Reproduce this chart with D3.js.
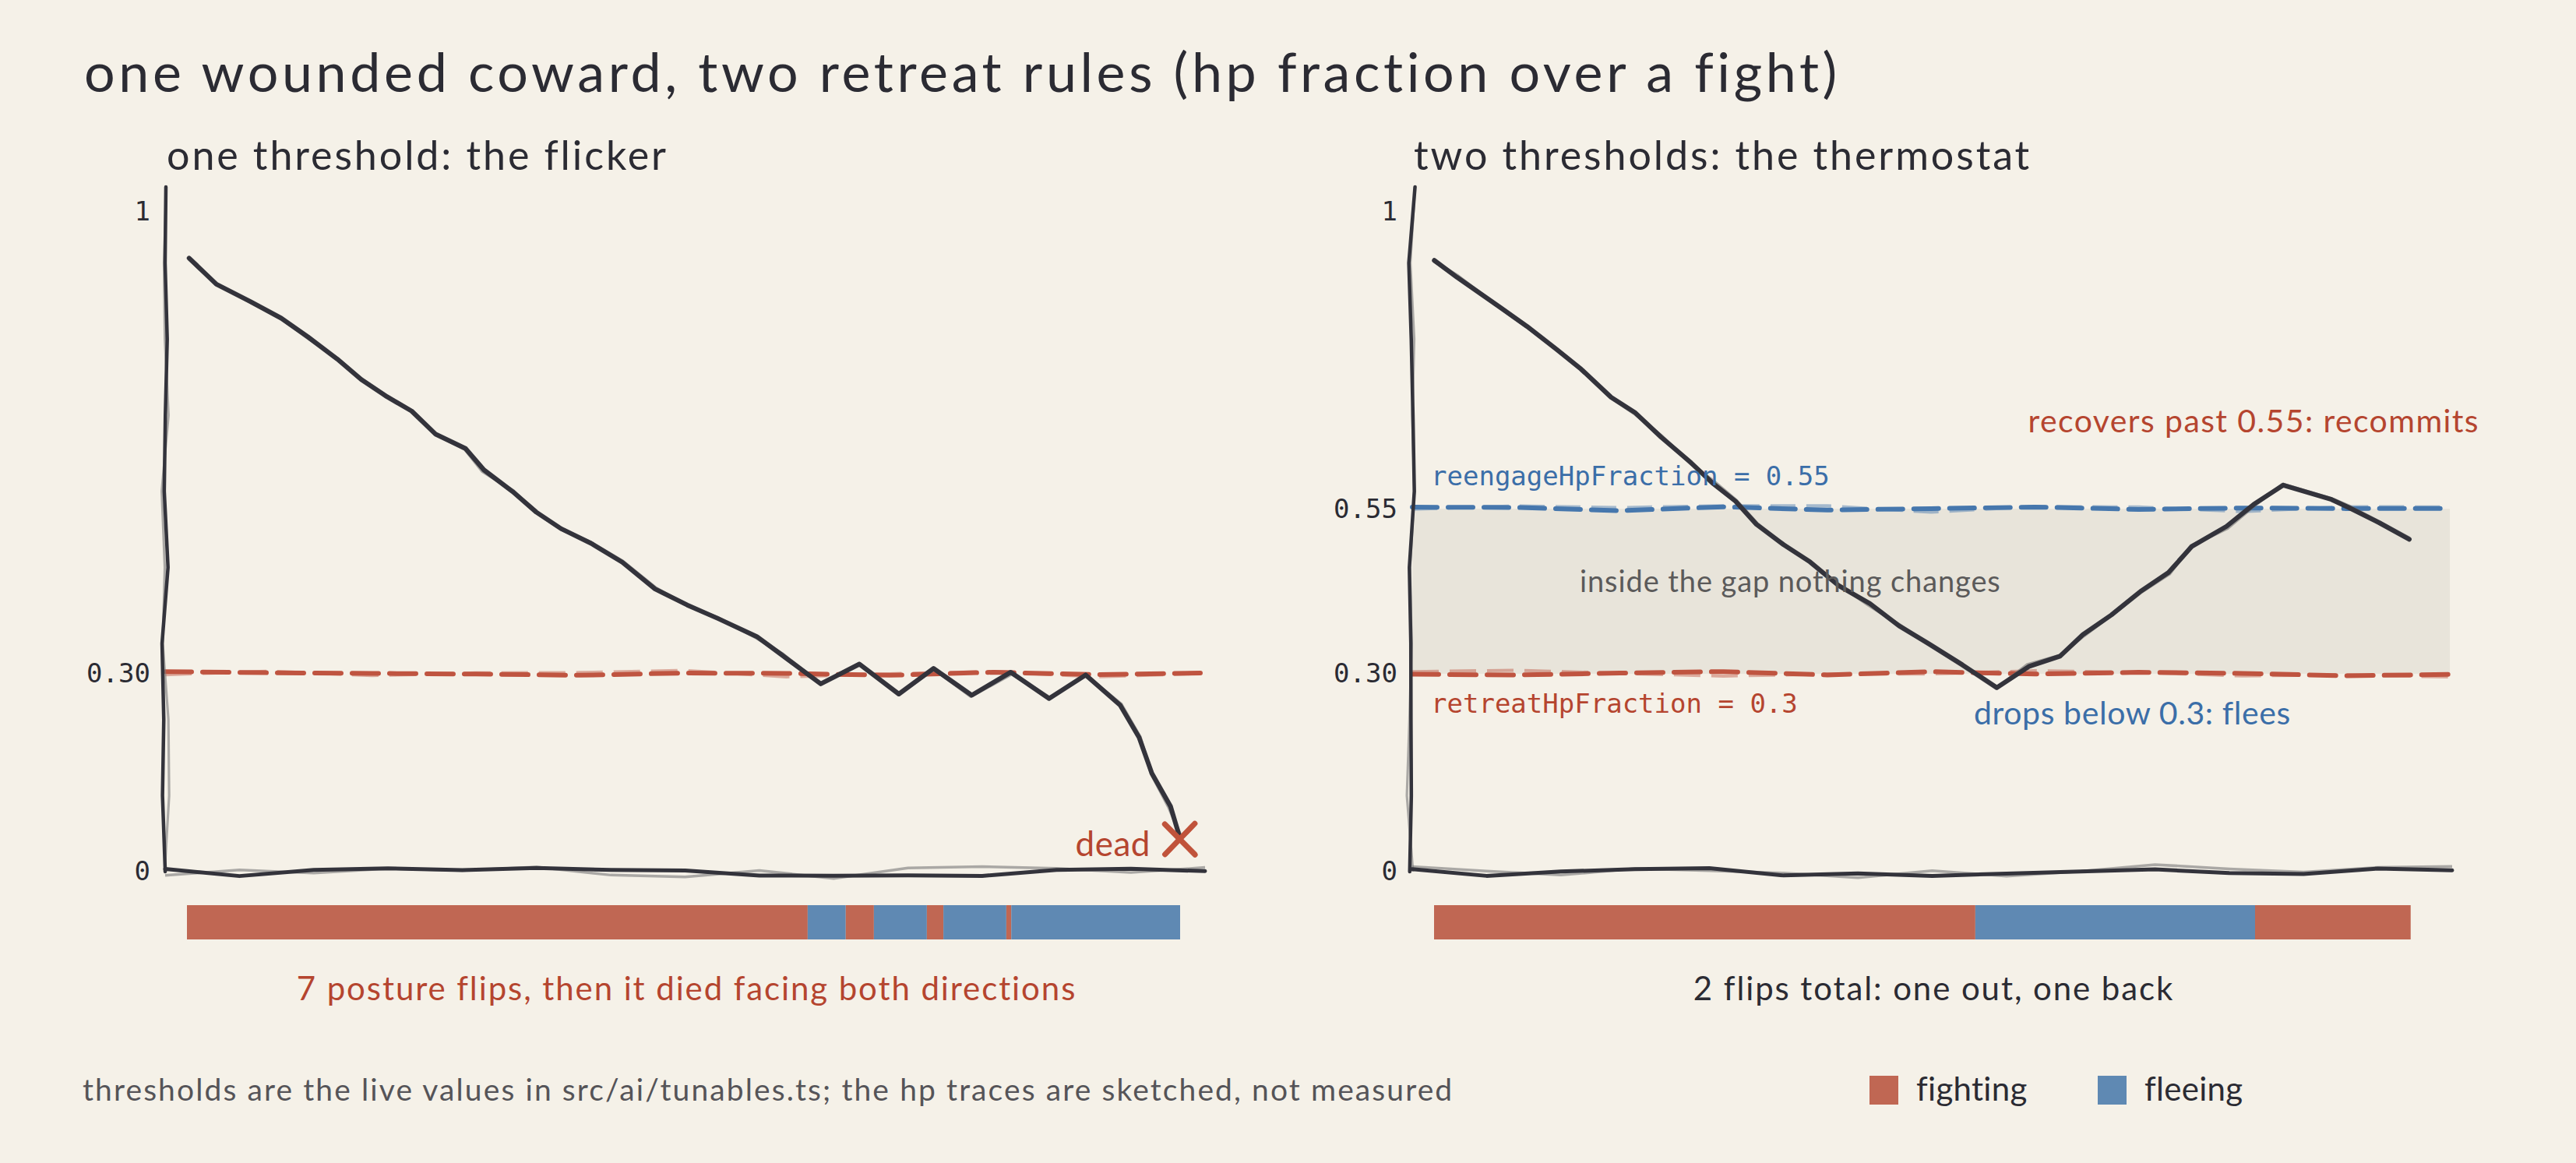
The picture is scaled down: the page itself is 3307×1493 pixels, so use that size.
<!DOCTYPE html>
<html>
  <head>
    <meta charset="UTF-8">
    <title>one wounded coward, two retreat rules</title>
    <script src="https://cdnjs.cloudflare.com/ajax/libs/d3/7.8.5/d3.min.js"></script>
  </head>
  <style type="text/css">
    body { margin: 0px; background: #f5f1e8; overflow: hidden; }
    .hand { font-family: "Lato", "Open Sans", sans-serif; }
    .mono { font-family: "DejaVu Sans Mono", "Liberation Mono", monospace; }
    .tick text { font-family: "DejaVu Sans Mono", monospace; font-size: 34px; fill: #2b2b33; }
  </style>
  <body>
    <div id="chart"></div>
    <script>
      // hp traces (t = fight time, hp = fraction)
      const leftT  = [0.1, 1.8, 3.8, 5.7, 7.3, 9.1, 10.5, 12.1, 13.6, 15.0, 16.8, 17.9, 19.7, 21.1, 22.6, 24.4, 26.3, 28.3, 30.2, 32.1, 34.4, 35.9, 38.3, 40.6, 43.0, 45.1, 47.4, 49.8, 52.1, 54.3, 56.4, 57.5, 58.3, 59.4, 60.0];
      const leftHp = [0.929, 0.891, 0.864, 0.839, 0.811, 0.778, 0.745, 0.721, 0.699, 0.663, 0.640, 0.608, 0.577, 0.545, 0.520, 0.497, 0.469, 0.429, 0.403, 0.384, 0.355, 0.329, 0.285, 0.316, 0.269, 0.308, 0.267, 0.301, 0.263, 0.298, 0.253, 0.203, 0.149, 0.099, 0.054];
      const rightT  = [0, 1.4, 4.0, 5.6, 7.4, 8.9, 10.7, 12.1, 13.7, 15.5, 16.9, 18.2, 19.5, 21.1, 22.7, 24.5, 26.3, 28.1, 29.9, 31.9, 34.0, 35.9, 37.8, 39.2, 40.9, 42.7, 44.4, 45.8, 47.9, 49.5, 51.3, 54.2, 55.3, 57.1, 58.9];
      const rightHp = [0.926, 0.901, 0.854, 0.826, 0.792, 0.762, 0.719, 0.695, 0.658, 0.619, 0.589, 0.561, 0.527, 0.495, 0.469, 0.434, 0.405, 0.373, 0.345, 0.313, 0.279, 0.312, 0.328, 0.359, 0.390, 0.424, 0.452, 0.492, 0.522, 0.557, 0.586, 0.563, 0.553, 0.528, 0.503];

      // posture strip: switch times and the posture held after each
      const leftFlipT = [0, 37.5, 39.8, 41.5, 44.7, 45.7, 49.5, 49.8, 60];
      const leftPosture = ['fighting', 'fleeing', 'fighting', 'fleeing', 'fighting', 'fleeing', 'fighting', 'fleeing'];
      const rightFlipT = [0, 32.7, 49.6, 59.0];
      const rightPosture = ['fighting', 'fleeing', 'fighting'];

      const retreatHpFraction = 0.3;
      const reengageHpFraction = 0.55;
      const leftTicks = [0, 0.30, 1];
      const rightTicks = [0, 0.30, 0.55, 1];
      const legendItems = ['fighting', 'fleeing'];

      const W = 3307, H = 1493;
      const colors = {fighting: '#c06753', fleeing: '#5f89b3'};
      const ink = '#33333b', red = '#bf5440', blue = '#4677ad';

      const svg = d3.select('#chart').append('svg')
        .attr('width', W).attr('height', H);
      svg.append('rect').attr('width', W).attr('height', H).attr('fill', '#f5f1e8');

      // deterministic wobble so the strokes look hand drawn
      function mulberry32(a) {
        return function() {
          a |= 0; a = a + 0x6D2B79F5 | 0;
          let t = Math.imul(a ^ a >>> 15, 1 | a);
          t = t + Math.imul(t ^ t >>> 7, 61 | t) ^ t;
          return ((t ^ t >>> 14) >>> 0) / 4294967296;
        };
      }
      function wobble(pts, amp, step, rnd) {
        const out = [];
        for (let i = 0; i < pts.length - 1; i++) {
          const [x1, y1] = pts[i], [x2, y2] = pts[i + 1];
          const len = Math.hypot(x2 - x1, y2 - y1) || 1;
          const n = Math.max(1, Math.round(len / step));
          const nx = -(y2 - y1) / len, ny = (x2 - x1) / len;
          for (let k = (i === 0 ? 0 : 1); k <= n; k++) {
            const f = k / n, j = (rnd() - 0.5) * 2 * amp;
            out.push([x1 + (x2 - x1) * f + nx * j, y1 + (y2 - y1) * f + ny * j]);
          }
        }
        return out;
      }
      const line = d3.line();
      function sketch(g, pts, o) {
        const rnd = mulberry32(o.seed);
        g.append('path')
          .attr('d', line(wobble(pts, o.amp * 1.6, o.step, rnd)))
          .attr('fill', 'none').attr('stroke', o.ghost)
          .attr('stroke-width', o.width * 0.7).attr('stroke-linejoin', 'round')
          .attr('stroke-dasharray', o.dash || null);
        g.append('path')
          .attr('d', line(wobble(pts, o.amp, o.step, rnd)))
          .attr('fill', 'none').attr('stroke', o.color)
          .attr('stroke-width', o.width).attr('stroke-linejoin', 'round')
          .attr('stroke-linecap', 'round')
          .attr('stroke-dasharray', o.dash || null);
      }
      function hand(sel, size, spacing) {
        return sel.attr('class', 'hand').attr('font-size', size).attr('letter-spacing', spacing);
      }

      hand(svg.append('text'), 70, 4.6)
        .attr('x', 108).attr('y', 118).attr('fill', '#2b2b33')
        .text('one wounded coward, two retreat rules (hp fraction over a fight)');

      const panels = [
        {x0: 212, title: 'one threshold: the flicker', t: leftT, hp: leftHp, flipT: leftFlipT, posture: leftPosture,
         ticks: leftTicks, caption: '7 posture flips, then it died facing both directions', captionColor: '#b5452f', seed: 11},
        {x0: 1813, title: 'two thresholds: the thermostat', t: rightT, hp: rightHp, flipT: rightFlipT, posture: rightPosture,
         ticks: rightTicks, caption: '2 flips total: one out, one back', captionColor: '#2b2b33', seed: 47}
      ];
      const axisW = 1335;
      const y = d3.scaleLinear().domain([0, 1]).range([1119, 272]);

      panels.forEach((p, pi) => {
        const g = svg.append('g');
        const x = d3.scaleLinear().domain([0, 60]).range([p.x0 + 28, p.x0 + 28 + 1275]);
        const xEnd = p.x0 + axisW;

        hand(g.append('text'), 52, 2.9)
          .attr('x', p.x0 + 2).attr('y', 218).attr('fill', '#2b2b33')
          .text(p.title);

        if (pi === 1) {
          g.append('rect')
            .attr('x', p.x0).attr('width', axisW - 3)
            .attr('y', y(reengageHpFraction))
            .attr('height', y(retreatHpFraction) - y(reengageHpFraction))
            .attr('fill', '#e8e4da');
          sketch(g, [[p.x0, y(reengageHpFraction)], [xEnd - 3, y(reengageHpFraction)]],
            {color: blue, ghost: 'rgba(70,119,173,0.45)', width: 6, amp: 2.8, step: 130, dash: '32 14', seed: p.seed + 3});
        }
        sketch(g, [[p.x0, y(retreatHpFraction)], [xEnd - (pi === 0 ? 6 : 3), y(retreatHpFraction)]],
          {color: red, ghost: 'rgba(191,84,64,0.45)', width: 6, amp: 2.8, step: 130, dash: '34 14', seed: p.seed + 5});

        // axes: labels from d3, the lines themselves sketched
        const ax = g.append('g')
          .attr('transform', `translate(${p.x0 - 19},0)`)
          .call(d3.axisLeft(y).tickValues(p.ticks).tickSize(0).tickPadding(0)
            .tickFormat(v => v === 0 ? '0' : v === 1 ? '1' : d3.format('.2f')(v)));
        ax.select('.domain').remove();

        sketch(g, [[p.x0, y(1) - 32], [p.x0, y(0)]],
          {color: ink, ghost: 'rgba(120,120,120,0.6)', width: 4.5, amp: 4.5, step: 100, seed: p.seed + 7});
        sketch(g, [[p.x0, y(0)], [xEnd, y(0)]],
          {color: ink, ghost: 'rgba(120,120,120,0.6)', width: 5, amp: 6, step: 95, seed: p.seed + 9});

        // hp trace
        const pts = p.t.map((t, i) => [x(t), y(p.hp[i])]);
        sketch(g, pts, {color: ink, ghost: 'rgba(110,110,110,0.6)', width: 6, amp: 1.4, step: 1e9, seed: p.seed});

        // posture strip
        g.selectAll('rect.posture')
          .data(p.posture).enter().append('rect')
          .attr('class', 'posture')
          .attr('x', (d, i) => x(p.flipT[i]))
          .attr('width', (d, i) => x(p.flipT[i + 1]) - x(p.flipT[i]))
          .attr('y', 1162).attr('height', 44)
          .attr('fill', d => colors[d]);

        hand(g.append('text'), 42, 1.9)
          .attr('x', p.x0 + axisW / 2 + 2).attr('y', 1284)
          .attr('text-anchor', 'middle').attr('fill', p.captionColor)
          .text(p.caption);

        if (pi === 0) {
          const lx = x(p.t[p.t.length - 1]), ly = y(p.hp[p.hp.length - 1]) + 4;
          sketch(g, [[lx - 19, ly - 20], [lx + 19, ly + 20]],
            {color: '#c0533b', ghost: 'rgba(192,83,59,0.5)', width: 7, amp: 1, step: 1e9, seed: 91});
          sketch(g, [[lx + 19, ly - 20], [lx - 19, ly + 20]],
            {color: '#c0533b', ghost: 'rgba(192,83,59,0.5)', width: 7, amp: 1, step: 1e9, seed: 93});
          hand(g.append('text'), 44, 0.5)
            .attr('x', lx - 38).attr('y', ly + 22)
            .attr('text-anchor', 'end').attr('fill', '#b5452f')
            .text('dead');
        } else {
          g.append('text').attr('class', 'mono')
            .attr('x', p.x0 + 24).attr('y', y(reengageHpFraction) - 30)
            .attr('font-size', 34).attr('fill', '#3b6ea8')
            .text('reengageHpFraction = ' + reengageHpFraction);
          g.append('text').attr('class', 'mono')
            .attr('x', p.x0 + 24).attr('y', y(retreatHpFraction) + 50)
            .attr('font-size', 34).attr('fill', '#b5452f')
            .text('retreatHpFraction = ' + retreatHpFraction);
          hand(g.append('text'), 38, 0.9)
            .attr('x', p.x0 + 215).attr('y', 760).attr('fill', '#5b5a5a')
            .text('inside the gap nothing changes');
          hand(g.append('text'), 41, 1.4)
            .attr('x', 3183).attr('y', 555).attr('text-anchor', 'end').attr('fill', '#b5452f')
            .text('recovers past 0.55: recommits');
          hand(g.append('text'), 41, 0.6)
            .attr('x', 2534).attr('y', 930).attr('fill', '#3b6ea8')
            .text('drops below 0.3: flees');
        }
      });

      hand(svg.append('text'), 39, 2.1)
        .attr('x', 106).attr('y', 1413).attr('fill', '#555458')
        .text('thresholds are the live values in src/ai/tunables.ts; the hp traces are sketched, not measured');

      const legend = svg.append('g');
      const legendX = d3.scalePoint().domain(legendItems).range([2400, 2693]);
      legend.selectAll('rect').data(legendItems).enter().append('rect')
        .attr('x', d => legendX(d)).attr('y', 1381)
        .attr('width', 37).attr('height', 37)
        .attr('fill', d => colors[d]);
      legend.selectAll('text').data(legendItems).enter().append('text')
        .call(s => hand(s, 42, 0.3))
        .attr('x', d => legendX(d) + 60).attr('y', 1413)
        .attr('fill', '#2b2b33')
        .text(d => d);
    </script>
  </body>
</html>
